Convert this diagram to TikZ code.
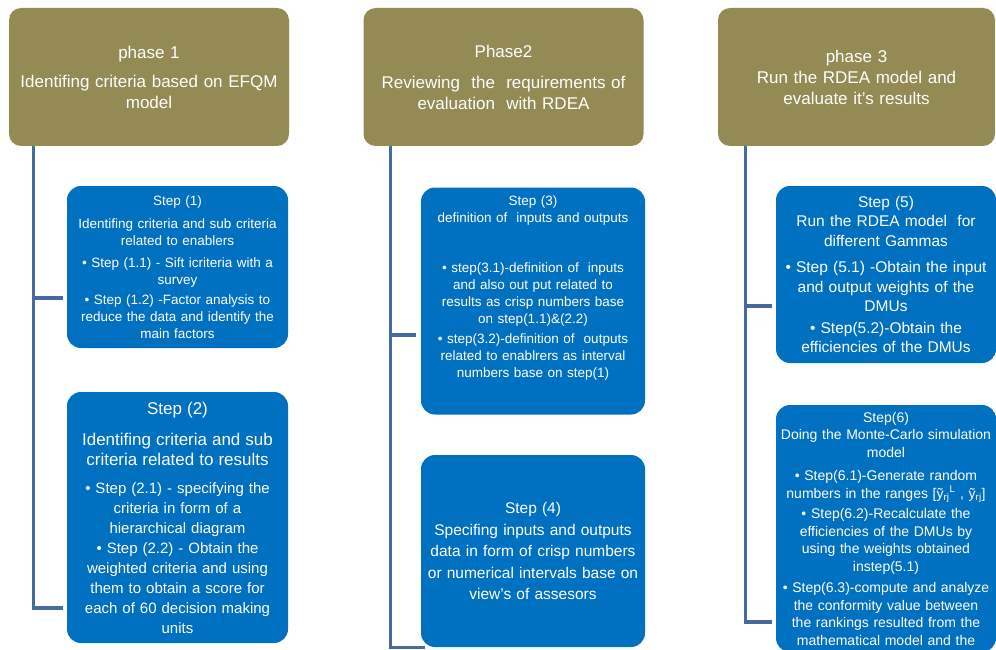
\documentclass[tikz,border=0pt]{standalone}
\usepackage{fontspec}
\setmainfont{Liberation Sans}

\definecolor{phaseolive}{RGB}{148,138,84}
\definecolor{stepblue}{RGB}{0,112,192}
\definecolor{trunkblue}{RGB}{70,106,158}

\tikzset{
  phasebox/.style={fill=phaseolive, rounded corners=12pt, text=white, align=center,
    text width=270pt, minimum width=280pt, minimum height=138pt,
    font=\fontsize{17}{21}\selectfont},
  stepbox/.style={fill=stepblue, rounded corners=14pt, text=white, align=center,
    inner xsep=4pt, inner ysep=3pt},
  trunk/.style={draw=trunkblue, line width=3.2pt},
}

\begin{document}
\begin{tikzpicture}[x=1pt,y=-1pt]
  \clip (0,0) rectangle (996,650);

  % phase headers
  \node[phasebox] (p1) at (149,77) {phase 1\\[8pt] Identifing criteria based on EFQM\\ model};
  \node[phasebox] (p2) at (503.5,77) {Phase2\\[10pt] Reviewing\ \ the\ \ requirements of\\ evaluation\ \ with RDEA};
  \node[phasebox, minimum width=277pt] (p3) at (856.5,77) {phase 3\\ Run the RDEA model and\\ evaluate it's results};

  % phase 1 steps
  \node[stepbox, text width=213pt, minimum height=162pt, font=\fontsize{13.5}{17}\selectfont] (s1) at (177.5,267)
    {Step (1)\\[6pt] Identifing criteria and sub criteria\\ related to enablers\\[5pt]
     • Step (1.1) - Sift icriteria with a\\ survey\\[3pt]
     • Step (1.2) -Factor analysis to\\ reduce the data and identify the\\ main factors};
  \node[stepbox, text width=213pt, minimum height=251pt, font=\fontsize{15}{20}\selectfont] (s2) at (177.5,517.5)
    {{\fontsize{17}{21}\selectfont Step (2)\\[10pt] Identifing criteria and sub\\ criteria related to results}\\[8pt]
     • Step (2.1) - specifying the\\ criteria in form of a\\ hierarchical diagram\\
     • Step (2.2) - Obtain the\\ weighted criteria and using\\ them to obtain a score for\\ each of 60 decision making\\ units};

  % phase 2 steps
  \node[stepbox, text width=216pt, minimum height=227pt, font=\fontsize{13.5}{17}\selectfont] (s3) at (533,301)
    {Step (3)\\ definition of\ \ inputs and outputs\\[33pt]
     • step(3.1)-definition of\ \ inputs\\ and also out put related to\\ results as crisp numbers base\\ on step(1.1)\&(2.2)\\[3pt]
     • step(3.2)-definition of\ \ outputs\\ related to enablrers as interval\\ numbers base on step(1)\\[12pt]\mbox{}};
  \node[stepbox, text width=216pt, minimum height=192pt, font=\fontsize{15.5}{21.5}\selectfont] (s4) at (533,551)
    {Step (4)\\ Specifing inputs and outputs\\ data in form of crisp numbers\\ or numerical intervals base on\\ view's of assesors};

  % phase 3 steps
  \node[stepbox, text width=212pt, minimum height=177pt, font=\fontsize{15.5}{19.5}\selectfont] (s5) at (886,274.5)
    {Step (5)\\ Run the RDEA model\ \ for\\ different Gammas\\[7pt]
     • Step (5.1) -Obtain the input\\ and output weights of the\\ DMUs\\[2pt]
     • Step(5.2)-Obtain the\\ efficiencies of the DMUs};
  \node[stepbox, text width=212pt, minimum height=247pt, font=\fontsize{14}{17.5}\selectfont] (s6) at (886,528.5)
    {Step(6)\\ Doing the Monte-Carlo simulation\\ model\\[6pt]
     • Step(6.1)-Generate random\\ numbers in the ranges [ỹ\textsubscript{rj}\textsuperscript{L} , ỹ\textsubscript{rj}]\\[3pt]
     • Step(6.2)-Recalculate the\\ efficiencies of the DMUs by\\ using the weights obtained\\ instep(5.1)\\[4pt]
     • Step(6.3)-compute and analyze\\ the conformity value between\\ the rankings resulted from the\\ mathematical model and the};

  % trunks and branches
  \coordinate (t1) at ([xshift=25pt]p1.south west);
  \coordinate (t2) at ([xshift=27pt]p2.south west);
  \coordinate (t3) at ([xshift=28pt]p3.south west);

  \draw[trunk, shorten >=4pt] (t1) |- (s2.west |- 0,608);
  \draw[trunk, shorten <=4pt] (s1.west |- 0,298) -- (t1 |- 0,298);

  \draw[trunk] (t2) |- ([xshift=4pt]s4.south west);
  \draw[trunk, shorten <=5pt] (s3.west |- 0,335) -- (t2 |- 0,335);

  \draw[trunk, shorten >=4pt] (t3) |- (s6.west |- 0,622);
  \draw[trunk, shorten <=4pt] (s5.west |- 0,306) -- (t3 |- 0,306);
\end{tikzpicture}
\end{document}
